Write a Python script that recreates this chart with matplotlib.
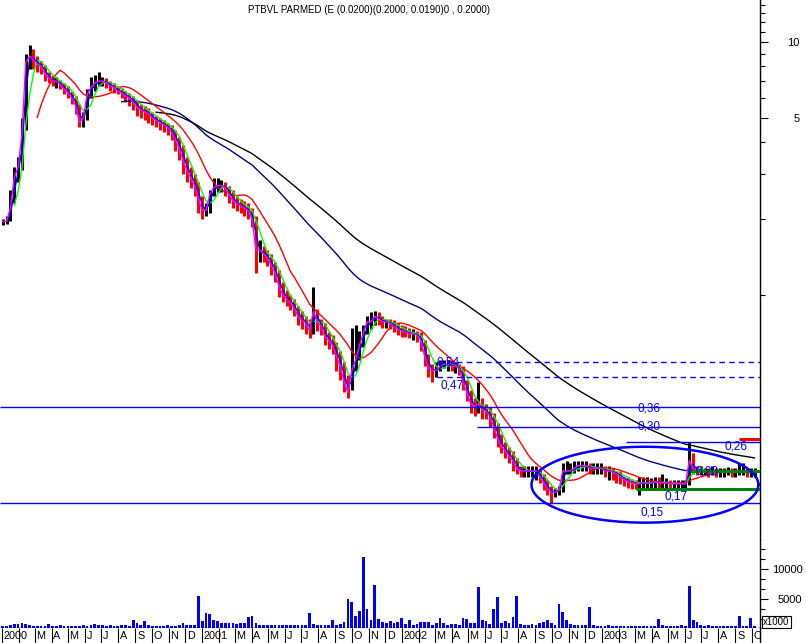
import numpy as np
import pandas as pd
import matplotlib
matplotlib.use('Agg')
import matplotlib.pyplot as plt
import matplotlib.dates as mdates
from matplotlib.ticker import FixedLocator, FixedFormatter, NullFormatter

plt.rcParams['font.family'] = ['Liberation Sans', 'DejaVu Sans']

# weekly bars, first week starting 2000-01-03
first_week = '2000-01-03'
closes = [
    1.95, 1.95, 2.2, 2.9, 3.2, 4.3, 8.3, 8.8, 8.5, 8.2,
    8.0, 7.5, 7.2, 7.0, 7.0, 6.8, 6.5, 6.3, 6.0, 5.6,
    4.8, 5.0, 6.2, 6.6, 6.9, 7.0, 7.0, 6.9, 6.7, 6.6,
    6.4, 6.3, 6.1, 6.0, 5.8, 5.5, 5.4, 5.3, 5.2, 5.0,
    4.9, 4.8, 4.7, 4.6, 4.4, 4.1, 3.8, 3.4, 3.1, 2.9,
    2.7, 2.4, 2.15, 2.15, 2.5, 2.65, 2.7, 2.7, 2.65, 2.5,
    2.35, 2.3, 2.25, 2.2, 2.15, 2.0, 1.5, 1.5, 1.45, 1.4,
    1.3, 1.22, 1.08, 1.0, 0.96, 0.93, 0.88, 0.82, 0.79, 0.77,
    0.72, 0.86, 0.78, 0.75, 0.68, 0.66, 0.63, 0.57, 0.52, 0.45,
    0.41, 0.5, 0.55, 0.63, 0.7, 0.78, 0.78, 0.82, 0.8, 0.78,
    0.78, 0.77, 0.75, 0.73, 0.72, 0.71, 0.70, 0.70, 0.69, 0.66,
    0.57, 0.51, 0.50, 0.50, 0.52, 0.53, 0.53, 0.52, 0.52, 0.51,
    0.45, 0.41, 0.37, 0.36, 0.37, 0.35, 0.345, 0.33, 0.30, 0.27,
    0.25, 0.24, 0.23, 0.22, 0.205, 0.20, 0.20, 0.20, 0.20, 0.20,
    0.19, 0.18, 0.17, 0.165, 0.165, 0.168, 0.20, 0.20, 0.20, 0.205,
    0.21, 0.21, 0.21, 0.205, 0.205, 0.205, 0.205, 0.20, 0.20, 0.198,
    0.195, 0.19, 0.185, 0.182, 0.18, 0.178, 0.178, 0.18, 0.18, 0.18,
    0.182, 0.18, 0.18, 0.18, 0.178, 0.178, 0.178, 0.178, 0.178, 0.22,
    0.205, 0.20, 0.20, 0.20, 0.198, 0.20, 0.198, 0.198, 0.198, 0.20,
    0.198, 0.198, 0.20, 0.20, 0.198, 0.198, 0.198,
]
highs = [
    2.0, 2.05, 2.6, 3.2, 3.5, 5.0, 9.0, 9.7, 9.4, 8.8,
    8.4, 8.1, 7.6, 7.4, 7.3, 7.1, 6.9, 6.7, 6.4, 6.1,
    5.7, 5.3, 6.5, 7.3, 7.4, 7.6, 7.3, 7.2, 7.0, 6.9,
    6.7, 6.6, 6.4, 6.3, 6.1, 5.9, 5.7, 5.6, 5.5, 5.3,
    5.1, 5.0, 4.9, 4.8, 4.7, 4.5, 4.2, 3.9, 3.5, 3.2,
    3.0, 2.8, 2.45, 2.3, 2.6, 2.9, 2.9, 2.85, 2.8, 2.7,
    2.6, 2.45, 2.4, 2.35, 2.3, 2.2, 2.05, 1.65, 1.55, 1.5,
    1.45, 1.35, 1.25, 1.12, 1.04, 1.0, 0.96, 0.9, 0.86, 0.82,
    0.8, 1.07, 0.88, 0.8, 0.77, 0.71, 0.69, 0.65, 0.6, 0.54,
    0.48, 0.74, 0.76, 0.72, 0.76, 0.82, 0.85, 0.86, 0.85, 0.82,
    0.8, 0.8, 0.79, 0.77, 0.76, 0.75, 0.74, 0.73, 0.72, 0.71,
    0.66, 0.58, 0.53, 0.54, 0.55, 0.55, 0.55, 0.55, 0.54, 0.53,
    0.52, 0.46, 0.42, 0.39, 0.45, 0.39, 0.37, 0.36, 0.34, 0.31,
    0.28, 0.26, 0.25, 0.24, 0.225, 0.21, 0.21, 0.21, 0.21, 0.21,
    0.205, 0.195, 0.185, 0.175, 0.172, 0.175, 0.215, 0.22, 0.215, 0.22,
    0.22, 0.22, 0.22, 0.215, 0.215, 0.215, 0.215, 0.21, 0.21, 0.205,
    0.2, 0.2, 0.19, 0.19, 0.186, 0.185, 0.19, 0.19, 0.19, 0.188,
    0.19, 0.19, 0.195, 0.188, 0.185, 0.185, 0.185, 0.184, 0.184, 0.26,
    0.235, 0.21, 0.21, 0.205, 0.205, 0.21, 0.205, 0.205, 0.205, 0.207,
    0.205, 0.205, 0.215, 0.215, 0.205, 0.205, 0.205,
]
lows = [
    1.88, 1.9, 1.95, 2.3, 2.8, 3.1, 4.5, 7.8, 7.8, 7.6,
    7.5, 7.0, 6.9, 6.7, 6.6, 6.5, 6.2, 6.0, 5.7, 5.2,
    4.6, 4.6, 4.9, 6.0, 6.4, 6.7, 6.7, 6.6, 6.4, 6.3,
    6.2, 6.0, 5.8, 5.6, 5.4, 5.1, 5.0, 4.9, 4.8, 4.7,
    4.6, 4.5, 4.4, 4.3, 4.1, 3.7, 3.4, 3.0, 2.8, 2.65,
    2.45, 2.1, 2.0, 2.05, 2.1, 2.45, 2.55, 2.55, 2.45, 2.3,
    2.2, 2.15, 2.1, 2.05, 2.0, 1.85, 1.22, 1.35, 1.35, 1.3,
    1.2, 1.12, 0.98, 0.93, 0.9, 0.87, 0.82, 0.76, 0.73, 0.7,
    0.67, 0.7, 0.72, 0.69, 0.63, 0.61, 0.58, 0.5, 0.46, 0.41,
    0.39, 0.42, 0.5, 0.55, 0.62, 0.7, 0.73, 0.76, 0.76, 0.74,
    0.74, 0.73, 0.71, 0.69, 0.68, 0.68, 0.67, 0.66, 0.65, 0.6,
    0.52, 0.47, 0.45, 0.47, 0.5, 0.51, 0.5, 0.5, 0.49, 0.48,
    0.42, 0.38, 0.34, 0.33, 0.34, 0.32, 0.32, 0.3, 0.27, 0.25,
    0.235, 0.225, 0.215, 0.2, 0.195, 0.19, 0.19, 0.19, 0.19, 0.185,
    0.18, 0.168, 0.16, 0.15, 0.158, 0.16, 0.165, 0.195, 0.195, 0.197,
    0.2, 0.2, 0.2, 0.195, 0.195, 0.195, 0.195, 0.19, 0.185, 0.185,
    0.18, 0.178, 0.175, 0.172, 0.17, 0.17, 0.16, 0.172, 0.172, 0.172,
    0.172, 0.172, 0.17, 0.172, 0.17, 0.17, 0.17, 0.17, 0.17, 0.176,
    0.195, 0.193, 0.192, 0.192, 0.19, 0.192, 0.19, 0.19, 0.19, 0.192,
    0.19, 0.19, 0.192, 0.192, 0.19, 0.19, 0.19,
]
# volume, x1000
volumes = [
    420, 480, 650, 800, 850, 1000, 800, 600, 500, 450,
    420, 450, 750, 500, 450, 550, 450, 420, 500, 480,
    500, 550, 480, 600, 750, 600, 550, 500, 550, 480,
    500, 550, 600, 500, 1500, 1000, 600, 1300, 600, 500,
    480, 450, 480, 550, 480, 450, 600, 900, 600, 600,
    700, 5560, 1300, 2600, 2500, 1400, 1300, 1000, 900, 1000,
    900, 800, 1000, 900, 1950, 2100, 900, 700, 600, 700,
    600, 700, 600, 700, 600, 650, 600, 550, 700, 600,
    2700, 800, 600, 700, 700, 700, 1500, 600, 800, 1200,
    5000, 4500, 2200, 3000, 12000, 3300, 1500, 7400, 1600, 1200,
    1000, 1300, 900, 1200, 1800, 800, 1500, 700, 800, 1200,
    1200, 1100, 700, 1000, 1800, 1000, 700, 800, 800, 700,
    1800, 1700, 900, 900, 7000, 1500, 1300, 800, 3300, 5300,
    1000, 1300, 1000, 2000, 5450, 800, 700, 700, 800, 700,
    900, 1100, 1500, 900, 700, 4200, 2800, 1500, 800, 700,
    600, 550, 600, 3600, 550, 500, 500, 450, 550, 450,
    420, 500, 420, 450, 420, 500, 420, 420, 500, 420,
    450, 1560, 600, 420, 450, 500, 420, 600, 450, 7200,
    1500, 1100, 550, 450, 600, 450, 420, 420, 420, 420,
    420, 420, 2200, 420, 420, 1800, 420,
]

# moving averages: kind, parameter, first week drawn, colour
ma_specs = [
    ('ewm', 0.042, 40, '#000000'),
    ('ewm', 0.062, 31, '#000080'),
    ('sma', 10, 0, '#FF0000'),
    ('sma', 4, 0, '#00FF00'),
    ('sma', 2, 0, '#0000FF'),
    ('sma', 1, 0, '#FF00FF'),
]

# support / resistance lines drawn by hand on the chart
level_vals = [0.54, 0.47, 0.36, 0.30, 0.26, 0.20, 0.17, 0.15, 0.268]
level_from = ['2002-03-06', '2002-03-06', None, '2002-05-18', '2003-02-14',
              '2003-06-11', '2003-03-04', None, '2003-09-08']
level_kind = ['dash', 'dash', 'thin', 'thin', 'thin', 'green', 'green', 'thin', 'red']

label_texts = ['0,54', '0,47', '0,36', '0,30', '0,26', '0,20', '0,17', '0,15']
label_dates = ['2002-03-26', '2002-04-02', '2003-03-28', '2003-03-28', '2003-09-03',
               '2003-07-12', '2003-05-15', '2003-04-02']
label_prices = [0.54, 0.438, 0.355, 0.30, 0.251, 0.20, 0.158, 0.1376]

x_start, x_end = '1999-12-29', '2003-10-16'

dates = pd.date_range(first_week, periods=len(closes), freq='7D')
close = pd.Series(closes, index=dates)
opens = close.shift(1).fillna(close.iloc[0])
xnum = mdates.date2num(dates)
xlim = (mdates.date2num(pd.Timestamp(x_start)), mdates.date2num(pd.Timestamp(x_end)))

W, H = 806, 643
fig = plt.figure(figsize=(W / 100, H / 100), dpi=100)
right = 760 / W
ax = fig.add_axes([0, 1 - 540 / H, right, 540 / H])
axv = fig.add_axes([0, 15.5 / H, right, 87.5 / H], sharex=ax)
axd = fig.add_axes([0, 0, right, 15.5 / H], sharex=ax)

# ---- price panel
up = close.values >= opens.values
bar_cols = np.where(up, '#000000', '#FF0000')
ax.vlines(xnum, lows, highs, colors=bar_cols, lw=2.2, zorder=2)

for kind, p, first, col in ma_specs:
    if kind == 'ewm':
        s = close.ewm(alpha=p, adjust=False).mean()
    else:
        s = close.rolling(p).mean()
    s = s.iloc[first:]
    ax.plot(mdates.date2num(s.index), s.values, color=col, lw=1.0, zorder=3)

for val, start, kind in zip(level_vals, level_from, level_kind):
    x0 = xlim[0] if start is None else mdates.date2num(pd.Timestamp(start))
    if kind == 'dash':
        ax.hlines(val, x0, xlim[1], colors='#0000FF', lw=1.0, linestyles=(0, (4, 3)), zorder=4)
    elif kind == 'green':
        ax.hlines(val, x0, xlim[1], colors='#008000', lw=2.2, zorder=4)
    elif kind == 'red':
        ax.hlines(val, x0, xlim[1], colors='#FF0000', lw=2.2, zorder=4)
    else:
        ax.hlines(val, x0, xlim[1], colors='#0000FF', lw=1.0, zorder=4)

for txt, d, pr in zip(label_texts, label_dates, label_prices):
    ax.text(mdates.date2num(pd.Timestamp(d)), pr, txt, color='#0000FF',
            fontsize=8.5, ha='center', va='center', zorder=5)

# ellipse round the 2002-2003 base
t = np.linspace(0, 2 * np.pi, 300)
ecx = mdates.date2num(pd.Timestamp('2003-03-20'))
ax.plot(ecx + 207 * np.cos(t), 0.1765 * 10 ** (0.1503 * np.sin(t)),
        color='#0000FF', lw=1.8, zorder=5)

ax.set_yscale('log')
ax.set_ylim(0.1066, 14.67)
ax.set_xlim(*xlim)
ax.yaxis.tick_right()
ax.yaxis.set_major_locator(FixedLocator([5, 10]))
ax.yaxis.set_major_formatter(FixedFormatter(['5', '10']))
ax.yaxis.set_minor_locator(FixedLocator([1, 2, 3, 4, 6, 7, 8, 9, 11, 12, 13, 14]))
ax.yaxis.set_minor_formatter(NullFormatter())
ax.tick_params(axis='y', which='major', direction='out', length=5.5, width=0.8,
               pad=23, labelsize=8)
ax.tick_params(axis='y', which='minor', direction='out', length=3.5, width=0.8)
for lab in ax.get_yticklabels():
    lab.set_horizontalalignment('right')
ax.tick_params(axis='x', which='both', bottom=False, labelbottom=False)

# ---- volume panel
axv.bar(xnum, volumes, width=5, color='#0000FF', linewidth=0, zorder=2)
axv.set_ylim(200, 14930)
axv.yaxis.tick_right()
axv.yaxis.set_major_locator(FixedLocator([5000, 10000]))
axv.yaxis.set_major_formatter(FixedFormatter(['5000', '10000']))
axv.yaxis.set_minor_locator(FixedLocator([5000 / 3 * k for k in (1, 2, 4, 5, 7, 8)]))
axv.tick_params(axis='y', which='major', direction='out', length=5.5, width=0.8,
                pad=25, labelsize=8)
axv.tick_params(axis='y', which='minor', direction='out', length=3.5, width=0.8)
for lab in axv.get_yticklabels():
    lab.set_horizontalalignment('right')
axv.tick_params(axis='x', which='both', bottom=False, labelbottom=False)
fig.text(763 / W, 1 - 622 / H, 'x1000', fontsize=7, va='center', ha='left',
         bbox=dict(boxstyle='square,pad=0.15', fc='white', ec='black', lw=0.8))

# ---- date strip
months = pd.date_range('2000-01-01', x_end, freq='MS')
axd.vlines(mdates.date2num(months), 0, 1, colors='black', lw=0.8, zorder=3)
for m in months:
    if m.month == 2:
        continue
    lab = str(m.year) if m.month == 1 else 'JFMAMJJASOND'[m.month - 1]
    axd.text(mdates.date2num(m) + 3, 0.45, lab, fontsize=7.8, ha='left',
             va='center', zorder=2, clip_on=True)
axd.set_ylim(0, 1)
axd.set_yticks([])
axd.tick_params(axis='x', which='both', bottom=False, labelbottom=False)

for a in (ax, axv, axd):
    for side in ('top', 'left', 'bottom'):
        a.spines[side].set_visible(False)
    a.spines['right'].set_linewidth(1.0)
axv.spines['bottom'].set_visible(True)
axv.spines['bottom'].set_linewidth(1.0)

fig.text(248 / W, 1 - 10 / H, 'PTBVL PARMED (E (0.0200)(0.2000, 0.0190)0 , 0.2000)',
         fontsize=7, ha='left', va='center')

fig.savefig('out.png', dpi=100)
